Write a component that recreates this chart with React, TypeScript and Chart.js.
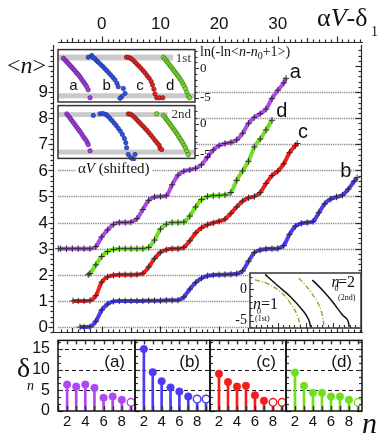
import React, { useEffect, useRef } from "react";
import { Chart, registerables } from "chart.js";

Chart.register(...registerables);

type P = [number, number];

/* ---------- main panel: <n> versus αV − δ1 ---------- */
const curveA: P[] = [[-7.4,3],[-7,3],[-6,3],[-5,3],[-4,3],[-3,3],[-2,3.0],[-1,3.08],[0,3.45],[1,3.72],[2,3.93],[3,4.0],[4,4.0],[5,4.02],[6,4.15],[7,4.5],[8,4.85],[9,4.98],[10,5.0],[11,5.03],[12,5.45],[13,5.82],[14,5.97],[15,6.02],[16,6.08],[17,6.22],[18,6.5],[19,6.78],[20,6.95],[21,7.03],[22,7.07],[23,7.17],[24,7.42],[25,7.8],[26,8.03],[27,8.17],[28,8.35],[29,8.75],[30,9.07],[31,9.35],[31.4,9.53]];
const curveB: P[] = [[-3.7,0],[-3,0],[-2,0.01],[-1,0.22],[0,0.65],[1,0.88],[2,0.98],[3,1.0],[4,1.0],[5,1.0],[6,1.0],[7,1.0],[8,1.01],[9,1.01],[10,1.01],[11,1.02],[12,1.02],[13,1.03],[14,1.15],[15,1.45],[16,1.7],[17,1.87],[18,1.96],[19,1.99],[20,2.0],[21,2.01],[22,2.02],[23,2.04],[24,2.15],[25,2.52],[26,2.85],[27,2.95],[28,2.99],[29,3.0],[30,3.01],[31,3.12],[32,3.55],[33,3.86],[34,3.97],[35,4.0],[36,4.04],[37,4.38],[38,4.72],[39,4.9],[40,4.98],[41,5.05],[42,5.28],[43,5.58],[43.5,5.72]];
const curveC: P[] = [[-4.9,1.0],[-4,1.0],[-3,1.0],[-2,1.01],[-1,1.2],[0,1.72],[1,1.92],[2,1.98],[3,2.0],[4,2.0],[5,2.0],[6,2.01],[7,2.05],[8,2.3],[9,2.62],[10,2.86],[11,2.96],[12,3.0],[13,3.0],[14,3.05],[15,3.3],[16,3.6],[17,3.8],[18,3.92],[19,3.99],[20,4.05],[21,4.13],[22,4.35],[23,4.6],[24,4.82],[25,4.95],[26,5.0],[27,5.15],[28,5.5],[29,5.8],[30,5.97],[31,6.25],[32,6.68],[33,6.95],[33.3,7.03]];
const curveD: P[] = [[-2.3,2.0],[-2,2.05],[-1,2.38],[0,2.7],[1,2.89],[2,2.97],[3,3.0],[4,3.0],[5,3.0],[6,3.0],[7,3.0],[8,3.05],[9,3.33],[10,3.75],[11,3.94],[12,4.0],[13,4.0],[14,4.02],[15,4.25],[16,4.6],[17,4.88],[18,5.0],[19,5.03],[20,5.04],[21,5.06],[22,5.15],[23,5.62],[24,5.98],[25,6.35],[26,6.9],[27,7.2],[28,7.55],[29,7.92]];
const nLevels = [0, 1, 2, 3, 4, 5, 6, 7, 8, 9];
const topTickLabels = [0, 10, 20, 30];
const curveNames = ["a", "b", "c", "d"];

/* ---------- bottom panels: δn versus n ---------- */
const nValues = [2, 3, 4, 5, 6, 7, 8, 9];
const deltaA = [6.4, 5.9, 6.4, 5.6, 3.2, 3.5, 2.7, 2.1];
const deltaB = [15.0, 9.4, 7.2, 5.7, 4.7, 3.5, 2.9, 2.9];
const deltaC = [9.0, 7.0, 5.9, 6.1, 3.8, 2.5, 2.1, 2.1];
const deltaD = [9.3, 6.1, 4.4, 4.4, 3.5, 3.5, 2.7, 2.1];
const openA = [0, 0, 0, 0, 0, 0, 0, 1];
const openB = [0, 0, 0, 0, 0, 0, 1, 1];
const openC = [0, 0, 0, 0, 0, 0, 1, 1];
const openD = [0, 0, 0, 0, 0, 0, 0, 1];
const panelNames = ["(a)", "(b)", "(c)", "(d)"];
const deltaTickLabels = [0, 5, 10, 15];
const deltaGrid = [5, 10, 15];
const nTickLabels = [2, 4, 6, 8];

/* ---------- top-left insets: ln(-ln<n-n0+1>) vs αV (shifted) ---------- */
const first_a: P[] = [[3.9,1.7],[5,1.45],[6,1.2],[7,0.95],[8,0.7],[9,0.45],[10,0.2],[11,-0.05],[12,-0.3],[13,-0.6],[14,-0.85],[15,-1.1],[16,-1.4],[17,-1.75],[18,-2.1],[19,-2.4],[20,-2.75],[21,-3.1],[22,-3.6],[23.4,-4.95]];
const first_b: P[] = [[22.1,1.88],[24.6,2.17],[25.5,1.83],[27,1.62],[28.2,1.3],[29.4,1.05],[31,0.7],[32.5,0.35],[34,0.0],[35.5,-0.35],[37,-0.75],[38.5,-1.1],[40,-1.5],[41.5,-1.9],[43,-2.5],[44,-3.1],[47.7,-3.38],[48.9,-4.22],[46.5,-4.78],[45.3,-5.05]];
const first_c: P[] = [[50,1.9],[51.5,1.85],[53,1.7],[54.5,1.45],[56,1.1],[57.5,0.75],[59,0.4],[60.5,0.05],[62,-0.35],[63.5,-0.75],[65,-1.2],[66.5,-1.65],[68,-2.2],[69,-2.8],[70,-3.5],[70.8,-4.3],[72,-4.95],[74,-4.95],[76.5,-4.95]];
const first_d: P[] = [[76.9,1.9],[78,1.6],[79,1.3],[80,1.0],[81,0.7],[82,0.4],[83,0.1],[84,-0.2],[85,-0.5],[86,-0.8],[87,-1.1],[88,-1.4],[89,-1.75],[90,-2.1],[91,-2.5],[92,-2.9],[93,-3.4],[94,-4.0],[95,-4.6],[96,-4.95]];
const second_a: P[] = [[6.4,1.6],[7.5,1.3],[8.5,1.0],[9.5,0.7],[10.5,0.4],[11.5,0.1],[12.5,-0.2],[13.5,-0.5],[14.5,-0.8],[15.5,-1.1],[16.5,-1.4],[17.5,-1.75],[18.5,-2.1],[19.5,-2.4],[20.5,-2.7],[21.5,-3.1],[22.1,-3.4],[23.4,-4.4]];
const second_b: P[] = [[25.8,1.35],[30.7,1.62],[32.8,1.67],[35,1.5],[36.5,1.2],[38,0.85],[39.5,0.5],[41,0.1],[42.5,-0.3],[44,-0.75],[45.5,-1.2],[47,-1.75],[48.5,-2.4],[49.5,-3.1],[50.1,-3.9],[51.3,-5.0],[56.2,-5.0],[55,-5.8],[53.3,-5.5]];
const second_c: P[] = [[51.3,1.6],[52.8,1.55],[54.3,1.35],[55.8,1.05],[57.3,0.7],[58.8,0.35],[60.3,0.0],[61.8,-0.35],[63.3,-0.7],[64.8,-1.05],[66.3,-1.45],[67.8,-1.85],[69.3,-2.25],[70.8,-2.7],[72.3,-3.1],[73.8,-3.5],[74.5,-4.0],[75.7,-4.2]];
const second_d: P[] = [[72,1.62],[76.9,1.35],[78,1.05],[79,0.75],[80,0.45],[81,0.15],[82,-0.15],[83,-0.45],[84,-0.75],[85,-1.05],[86,-1.35],[87,-1.7],[88,-2.05],[89,-2.4],[90,-2.75],[91,-3.1],[92,-3.5],[93,-3.9],[94,-4.4],[95.1,-5.0]];
const bands1st: [number, number, number][] = [[1.33, 2.33, 84], [-5.05, -4.2, 100]];
const bands2nd: [number, number, number][] = [[1.08, 1.87, 80], [-5.0, -4.2, 100]];
const insetTickLabels = [0, -5];

/* ---------- bottom-right inset: model curves ---------- */
const model1Dash: P[] = [[4.5,1.48],[15.2,0.95],[27.3,-0.38],[36.4,-2.22],[42.5,-4.08],[45.5,-5.94]];
const model1Solid: P[] = [[13.6,2.38],[24.3,0.68],[36.4,-1.17],[48.5,-3.56],[53,-4.87],[54.5,-5.94]];
const model2Dash: P[] = [[43.9,1.75],[48.5,0.95],[54.5,-0.38],[60.6,-1.97],[65.2,-4.08],[66.6,-5.94]];
const model2Solid: P[] = [[56.1,1.48],[65.2,-0.11],[74.3,-1.97],[83.4,-4.08],[87.9,-4.87],[89.4,-5.94]];

/* ---------- styling ---------- */
const COL = { a: "#b048f0", b: "#4a3cf2", c: "#f41c1c", d: "#70e01e" };
const DOT = {
  a: ["#a23fe0", "#5a1a80"],
  b: ["#3052e8", "#1a2a80"],
  c: ["#e02222", "#701010"],
  d: ["#7cdc2a", "#2a6a10"],
};
const SANS = '"Liberation Sans", Arial, sans-serif';
const SERIF = '"Liberation Serif", "Times New Roman", serif';

const pts = (a: P[]) => a.map(([x, y]) => ({ x, y }));

function line(ctx: CanvasRenderingContext2D, x1: number, y1: number, x2: number, y2: number) {
  ctx.beginPath();
  ctx.moveTo(x1, y1);
  ctx.lineTo(x2, y2);
  ctx.stroke();
}

const baseOptions = (pad: any, xr: [number, number], yr: [number, number]) => ({
  responsive: false,
  maintainAspectRatio: false,
  animation: false,
  events: [],
  layout: { padding: pad },
  plugins: { legend: { display: false }, tooltip: { enabled: false } },
  scales: {
    x: { type: "linear", display: false, min: xr[0], max: xr[1], offset: false },
    y: { type: "linear", display: false, min: yr[0], max: yr[1] },
  },
});

/* main chart decorations */
const mainDecor = {
  id: "mainDecor",
  beforeDatasetsDraw(chart: any) {
    const { ctx, chartArea: a, scales } = chart;
    ctx.save();
    ctx.strokeStyle = "#8e8e8e";
    ctx.lineWidth = 1.6;
    ctx.setLineDash([1.3, 0.9]);
    for (const v of nLevels) {
      const py = Math.round(scales.y.getPixelForValue(v)) + 0.5;
      line(ctx, a.left + 5, py, a.right - 1, py);
    }
    ctx.restore();
  },
  afterDatasetsDraw(chart: any) {
    const { ctx, chartArea: a, scales } = chart;
    const x = scales.x, y = scales.y;
    ctx.save();
    ctx.strokeStyle = "#2a2a2a";
    ctx.lineWidth = 1.2;
    const lx = a.left + 0.5, rx = a.right - 1.5, ty = 42.5, by = a.bottom - 0.5;
    line(ctx, lx, 45, lx, by);
    line(ctx, rx, 45, rx, by);
    line(ctx, a.left + 5, ty, a.right, ty);
    line(ctx, lx, by, a.right, by);
    for (let k = -1; k <= 53; k++) {
      const v = k / 5;
      if (v < y.min || v > y.max) continue;
      const py = Math.round(y.getPixelForValue(v)) + 0.5;
      const major = k % 5 === 0;
      line(ctx, lx - (major ? 5 : 3), py, lx, py);
      line(ctx, rx - (major ? 6 : 3), py, rx, py);
    }
    for (let v = -7; v <= 44; v++) {
      const px = Math.round(x.getPixelForValue(v)) + 0.5;
      const len = v % 10 === 0 ? 6 : v % 5 === 0 ? 4.5 : 3;
      line(ctx, px, ty - len, px, ty);
      line(ctx, px, by - len, px, by);
    }
    ctx.fillStyle = "#111";
    ctx.font = `17px ${SANS}`;
    ctx.textAlign = "center";
    ctx.textBaseline = "middle";
    for (const v of topTickLabels) ctx.fillText(String(v), x.getPixelForValue(v), 24.5);
    ctx.textAlign = "right";
    for (const v of nLevels) ctx.fillText(String(v), 48, y.getPixelForValue(v) + 0.5);
    // curve names at the ends of the curves
    const at: Record<string, P> = { a: [33.0, 9.54], b: [41.6, 5.76], c: [34.3, 7.24], d: [30.7, 8.05] };
    ctx.font = `20px ${SANS}`;
    ctx.textAlign = "center";
    ctx.textBaseline = "alphabetic";
    for (const nm of curveNames) {
      const [vx, vy] = at[nm];
      ctx.fillText(nm, x.getPixelForValue(vx), y.getPixelForValue(vy));
    }
    ctx.restore();
  },
};

function mainConfig() {
  const mk = (data: P[], color: string) => ({
    data: pts(data),
    borderColor: color,
    borderWidth: 4,
    cubicInterpolationMode: "monotone",
    pointStyle: "cross",
    pointRadius: 3.2,
    pointBorderColor: "#303030",
    pointBackgroundColor: "#303030",
    pointBorderWidth: 1,
    clip: false,
    fill: false,
  });
  return {
    type: "line",
    data: { datasets: [mk(curveB, COL.b), mk(curveC, COL.c), mk(curveD, COL.d), mk(curveA, COL.a)] },
    options: baseOptions({ left: 53, top: 49, right: 18, bottom: 12 }, [-8.3, 44.51], [-0.23, 10.65]),
    plugins: [mainDecor],
  };
}

/* bottom panels */
const PANEL_EDGES: P[] = [[58, 135], [135, 210], [210, 286], [286, 362]];

function panelDecor(idx: number) {
  return {
    id: "panelDecor" + idx,
    beforeDatasetsDraw(chart: any) {
      const { ctx, chartArea: a, scales } = chart;
      ctx.save();
      ctx.strokeStyle = "#111";
      ctx.lineWidth = 1;
      ctx.setLineDash([4, 3]);
      for (const v of deltaGrid) {
        const py = Math.round(scales.y.getPixelForValue(v)) + 0.5;
        line(ctx, a.left, py, a.right, py);
      }
      ctx.restore();
    },
    afterDatasetsDraw(chart: any) {
      const { ctx, chartArea: a, scales } = chart;
      const x = scales.x, y = scales.y;
      ctx.save();
      ctx.strokeStyle = "#333";
      ctx.lineWidth = 1.4;
      for (let n = 1; n <= 9; n++) {
        const px = Math.round(x.getPixelForValue(n)) + 0.5;
        line(ctx, px, a.bottom, px, a.bottom - 5);
        line(ctx, px, a.top, px, a.top + 4);
      }
      ctx.lineWidth = 1.2;
      for (let k = 0; k <= 10; k++) {
        const v = (k * 5) / 3;
        if (v > y.max) continue;
        const py = Math.round(y.getPixelForValue(v)) + 0.5;
        const len = k % 3 === 0 ? 5 : 3;
        line(ctx, a.left, py, a.left + len, py);
        if (idx === 3) line(ctx, a.right, py, a.right - len, py);
      }
      ctx.strokeStyle = "#111";
      ctx.lineWidth = 1.5;
      ctx.strokeRect(a.left, a.top, a.right - a.left, a.bottom - a.top);
      ctx.fillStyle = "#111";
      ctx.font = `15px ${SANS}`;
      ctx.textAlign = "center";
      ctx.textBaseline = "middle";
      for (const n of nTickLabels) ctx.fillText(String(n), x.getPixelForValue(n), a.bottom + 11);
      if (idx === 0) {
        ctx.font = `16px ${SANS}`;
        ctx.textAlign = "right";
        for (const v of deltaTickLabels) ctx.fillText(String(v), 50, y.getPixelForValue(v));
      }
      ctx.font = `17px ${SANS}`;
      ctx.textAlign = "right";
      ctx.fillText(panelNames[idx], a.right - 10, a.top + 22);
      ctx.restore();
    },
  };
}

function panelConfig(idx: number) {
  const vals = [deltaA, deltaB, deltaC, deltaD][idx];
  const open = [openA, openB, openC, openD][idx];
  const color = [COL.a, COL.b, COL.c, COL.d][idx];
  const data = nValues.map((n, i) => ({ x: n, y: vals[i] }));
  const [l, r] = PANEL_EDGES[idx];
  return {
    type: "bar",
    data: {
      datasets: [
        { type: "bar", data, backgroundColor: color, barThickness: 2, order: 2 },
        {
          type: "line",
          data,
          showLine: false,
          pointRadius: 3.8,
          pointBackgroundColor: open.map((o) => (o ? "#ffffff" : color)),
          pointBorderColor: color,
          pointBorderWidth: open.map((o) => (o ? 1.4 : 0.5)),
          clip: false,
          order: 1,
        },
      ],
    },
    options: baseOptions({ left: l, right: 381 - r, top: 4, bottom: 24 }, [1.0, 9.45], [0, 17.1]),
    plugins: [panelDecor(idx)],
  };
}

/* top-left insets */
function boxDecor(kind: number) {
  return {
    id: "boxDecor" + kind,
    beforeDatasetsDraw(chart: any) {
      const { ctx, chartArea: a, scales } = chart;
      ctx.save();
      ctx.fillStyle = "#fff";
      ctx.fillRect(a.left, a.top, a.right - a.left, a.bottom - a.top);
      ctx.fillStyle = "#c9c9c9";
      for (const [lo, hi, xe] of kind === 1 ? bands1st : bands2nd) {
        const y1 = scales.y.getPixelForValue(hi), y2 = scales.y.getPixelForValue(lo);
        ctx.fillRect(a.left, y1, scales.x.getPixelForValue(xe) - a.left, y2 - y1);
      }
      ctx.restore();
    },
    afterDatasetsDraw(chart: any) {
      const { ctx, chartArea: a, scales } = chart;
      const x = scales.x, y = scales.y;
      ctx.save();
      ctx.strokeStyle = "#333";
      ctx.lineWidth = 1.5;
      ctx.strokeRect(a.left, a.top, a.right - a.left, a.bottom - a.top);
      ctx.lineWidth = 1.1;
      for (let v = -5; v <= 3; v++) {
        if (v < y.min || v > y.max) continue;
        const py = Math.round(y.getPixelForValue(v)) + 0.5;
        line(ctx, a.right, py, a.right + (v % 5 === 0 ? 4 : 2.5), py);
      }
      ctx.fillStyle = "#111";
      ctx.font = `13px ${SERIF}`;
      ctx.textAlign = "left";
      ctx.textBaseline = "middle";
      for (const v of insetTickLabels) ctx.fillText(String(v), a.right + 5, y.getPixelForValue(v));
      ctx.textAlign = "right";
      ctx.textBaseline = "alphabetic";
      ctx.fillStyle = "#333";
      ctx.fillText(kind === 1 ? "1st" : "2nd", a.right - 4, a.top + 12);
      if (kind === 1) {
        ctx.fillStyle = "#111";
        ctx.font = `15px ${SANS}`;
        ctx.textAlign = "center";
        const lx = [11.2, 35.5, 59.9, 81.8];
        curveNames.forEach((nm, i) => ctx.fillText(nm, x.getPixelForValue(lx[i]), y.getPixelForValue(-3.67)));
      }
      ctx.restore();
    },
  };
}

function boxConfig(kind: number) {
  const sets = kind === 1 ? [first_a, first_b, first_c, first_d] : [second_a, second_b, second_c, second_d];
  const keys = ["a", "b", "c", "d"] as const;
  return {
    type: "scatter",
    data: {
      datasets: sets.map((s, i) => ({
        data: pts(s),
        pointRadius: 2.2,
        pointBackgroundColor: DOT[keys[i]][0],
        pointBorderColor: DOT[keys[i]][1],
        pointBorderWidth: 0.6,
        clip: false,
      })),
    },
    options: baseOptions(
      { left: 8, top: 4, right: 30, bottom: kind === 1 ? 5 : 4 },
      [0, 100],
      kind === 1 ? [-5.67, 3.17] : [-5.63, 2.94]
    ),
    plugins: [boxDecor(kind)],
  };
}

/* bottom-right inset */
const modelDecor = {
  id: "modelDecor",
  beforeDatasetsDraw(chart: any) {
    const { ctx, chartArea: a } = chart;
    ctx.save();
    ctx.fillStyle = "#fff";
    ctx.fillRect(a.left, a.top, a.right - a.left, a.bottom - a.top);
    ctx.restore();
  },
  afterDatasetsDraw(chart: any) {
    const { ctx, chartArea: a, scales } = chart;
    const x = scales.x, y = scales.y;
    ctx.save();
    ctx.strokeStyle = "#333";
    ctx.lineWidth = 1.5;
    ctx.strokeRect(a.left, a.top, a.right - a.left, a.bottom - a.top);
    ctx.lineWidth = 1.1;
    for (let v = -6; v <= 2; v++) {
      const py = Math.round(y.getPixelForValue(v)) + 0.5;
      line(ctx, a.left, py, a.left + (v % 5 === 0 ? 4 : 2.5), py);
    }
    for (let v = 5; v < 100; v += 5) {
      const px = Math.round(x.getPixelForValue(v)) + 0.5;
      line(ctx, px, a.bottom, px, a.bottom - (v % 25 === 0 ? 5 : 3));
    }
    ctx.fillStyle = "#111";
    ctx.font = `14px ${SERIF}`;
    ctx.textAlign = "right";
    ctx.textBaseline = "middle";
    for (const v of insetTickLabels) ctx.fillText(String(v), a.left - 3, y.getPixelForValue(v));
    ctx.restore();
  },
};

function modelConfig() {
  const mk = (d: P[], dashed: boolean) => ({
    data: pts(d),
    borderColor: dashed ? "#9a9a22" : "#111",
    borderWidth: dashed ? 1.3 : 1.5,
    borderDash: dashed ? [5, 2, 1, 2] : [],
    pointRadius: 0,
    tension: 0.4,
    clip: false,
  });
  return {
    type: "line",
    data: {
      datasets: [mk(model1Dash, true), mk(model1Solid, false), mk(model2Dash, true), mk(model2Solid, false)],
    },
    options: baseOptions({ left: 22, top: 5, right: 7, bottom: 6 }, [0, 100], [-6.14, 2.59]),
    plugins: [modelDecor],
  };
}

function ChartCanvas({ left, top, width, height, make }: any) {
  const ref = useRef<HTMLCanvasElement | null>(null);
  useEffect(() => {
    const chart = new Chart(ref.current as HTMLCanvasElement, make());
    return () => chart.destroy();
  }, []);
  return (
    <canvas
      ref={ref}
      width={width}
      height={height}
      style={{ position: "absolute", left, top, width, height }}
    />
  );
}

function T({ x, base, size, italic, children, bg, pad }: any) {
  return (
    <div
      style={{
        position: "absolute",
        left: x,
        top: base - 0.8375 * size,
        fontSize: size,
        lineHeight: 1,
        fontFamily: SERIF,
        fontStyle: italic ? "italic" : "normal",
        whiteSpace: "nowrap",
        color: "#111",
        background: bg,
        padding: pad,
      }}
    >
      {children}
    </div>
  );
}

export default function App() {
  return (
    <div
      style={{
        position: "absolute",
        left: 0,
        top: 0,
        width: 381,
        height: 439,
        background: "#fff",
        overflow: "hidden",
      }}
    >
      <ChartCanvas left={0} top={0} width={381} height={345} make={mainConfig} />
      {[0, 1, 2, 3].map((i) => (
        <ChartCanvas key={i} left={0} top={335} width={381} height={100} make={() => panelConfig(i)} />
      ))}
      <ChartCanvas left={50} top={45} width={175} height={62} make={() => boxConfig(1)} />
      <ChartCanvas left={50} top={101} width={175} height={62} make={() => boxConfig(2)} />
      <ChartCanvas left={228} top={268} width={140} height={66} make={modelConfig} />

      <T x={7} base={73} size={24}>
        &lt;<i>n</i>&gt;
      </T>
      <T x={317} base={27} size={26}>
        α<i>V</i>-δ
      </T>
      <T x={371} base={37} size={14}>
        1
      </T>
      <T x={200} base={57} size={14}>
        ln(-ln&lt;<i>n</i>-<i>n</i>
        <span style={{ fontSize: 10, position: "relative", top: 3 }}>0</span>+1&gt;)
      </T>
      <T x={76} base={174} size={15} bg="#fff" pad="0 2px">
        α<i>V</i> (shifted)
      </T>
      <T x={17} base={377} size={28}>
        δ
      </T>
      <T x={27} base={391} size={14} italic>
        n
      </T>
      <T x={362} base={433} size={30} italic>
        n
      </T>
      <T x={253} base={309} size={16} italic>
        n
      </T>
      <T x={257} base={315} size={8}>
        0
      </T>
      <T x={261} base={309} size={16}>
        =1
      </T>
      <T x={255} base={322} size={8}>
        (1st)
      </T>
      <T x={331.5} base={287} size={16} italic>
        n
      </T>
      <T x={334.5} base={292} size={8}>
        0
      </T>
      <T x={338} base={287} size={16}>
        =2
      </T>
      <T x={338} base={301} size={8}>
        (2nd)
      </T>
    </div>
  );
}
